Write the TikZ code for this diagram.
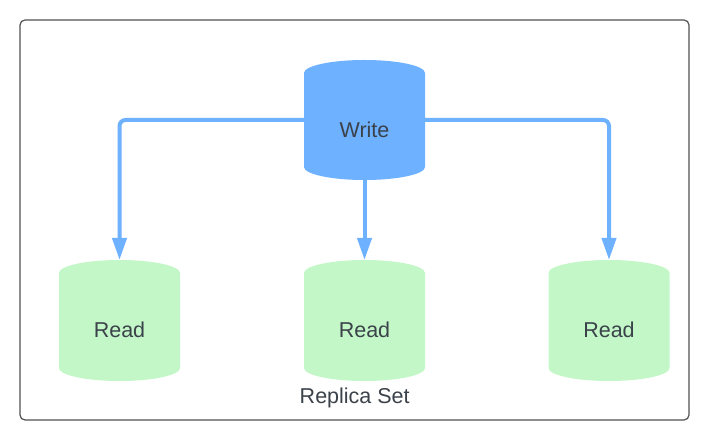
\documentclass[tikz,border=0pt]{standalone}
\usepackage{fontspec}
\setmainfont{Liberation Sans}
\usetikzlibrary{arrows.meta}
\definecolor{wblue}{HTML}{6DB1FF}
\definecolor{rgreen}{HTML}{C3F7C8}
\definecolor{tgray}{HTML}{3B424A}
\definecolor{fgray}{HTML}{505050}
\newcommand\mycylfill[2]{\fill[#2] ([yshift=-13pt]#1.north west) arc[start angle=180,end angle=0,x radius=60.5pt,y radius=13pt] -- ([yshift=13pt]#1.south east) arc[start angle=0,end angle=-180,x radius=60.5pt,y radius=13pt] -- cycle;}
\begin{document}
\begin{tikzpicture}[x=1pt,y=1pt,
  cyl/.style={inner sep=0pt,outer sep=0pt,minimum width=121pt,minimum height=121pt},
  lbl/.style={text=tgray,font=\fontsize{21.5}{24}\selectfont,anchor=base,inner sep=0pt},
  conn/.style={draw=wblue,line width=4pt,rounded corners=6pt,-{Triangle[length=22pt,width=14pt]}},
  frame/.style={draw=fgray,line width=1.2pt,rounded corners=5pt}]
\useasboundingbox (0,0) rectangle (709,442);
\draw[frame] (20,22) rectangle (689,422);
\node[cyl,minimum height=120pt] (w) at (364.5,322) {};
\node[cyl] (r1) at (119.5,121.5) {};
\node[cyl] (r2) at (364.5,121.5) {};
\node[cyl] (r3) at (609,121.5) {};
\mycylfill{w}{wblue}
\mycylfill{r1}{rgreen}
\mycylfill{r2}{rgreen}
\mycylfill{r3}{rgreen}
\node[lbl] (wl) at (364.5,304.7) {Write};
\node[lbl] (r1l) at (119.5,104.7) {Read};
\node[lbl] (r2l) at (364.5,104.7) {Read};
\node[lbl] (r3l) at (609,104.7) {Read};
\node[lbl] (rs) at (354.7,39) {Replica Set};
\draw[conn] (w.west) -| (r1.north);
\draw[conn] (w.south) -- (r2.north);
\draw[conn] (w.east) -| (r3.north);
\end{tikzpicture}
\end{document}
